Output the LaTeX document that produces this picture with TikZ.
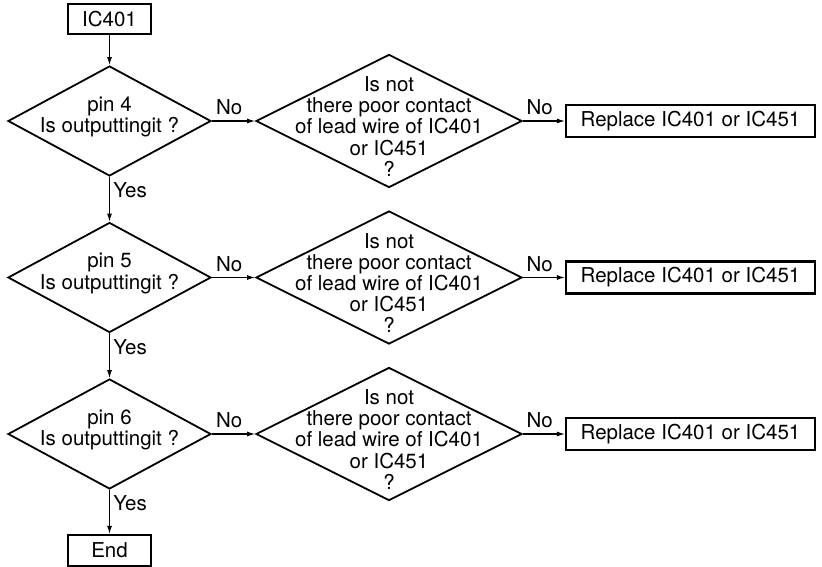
\documentclass[tikz,border=0pt]{standalone}
\usepackage{fontspec}
\setmainfont{TeX Gyre Heros}
\usetikzlibrary{shapes.geometric, arrows.meta, positioning}
\tikzstyle{terminal} = [rectangle, draw=black, line width=2.2pt,
minimum width=83pt, minimum height=30pt, inner sep=0pt]
\tikzstyle{decision} = [diamond, draw=black, line width=1.8pt,
minimum width=203pt, minimum height=110pt, inner sep=0pt]
\tikzstyle{check} = [decision, minimum width=266pt, minimum height=133pt]
\tikzstyle{replace} = [terminal, minimum width=249pt, minimum height=32pt]
\tikzstyle{question} = [align=center, inner sep=0pt]
\tikzstyle{arrow} = [line width=1.1pt,->,>={Latex[length=8pt,width=5pt]}]

\begin{document}
\begin{tikzpicture}[x=1pt, y=1pt, font=\fontsize{20.5}{21.2}\selectfont]
\useasboundingbox (0,0) rectangle (822,-567);

% Nodes
\node[terminal] (ic401) at (109.5,-19) {IC401};

\node[decision, below of=ic401, node distance=102pt] (pin4) {};
\node[question] (pin4text) at ([yshift=4pt]pin4) {pin 4\\Is outputtingit ?};
\node[check, right of=pin4, node distance=279.5pt] (contact4) {};
\node[question] (contact4text) at ([yshift=-5.5pt]contact4) {Is not\\there poor contact\\of lead wire of IC401\\or IC451\\?};
\node[replace, right of=contact4, node distance=301.5pt] (replace4) {Replace IC401 or IC451};

\node[decision, below of=pin4, node distance=156.5pt] (pin5) {};
\node[question] (pin5text) at ([yshift=4pt]pin5) {pin 5\\Is outputtingit ?};
\node[check, right of=pin5, node distance=279.5pt] (contact5) {};
\node[question] (contact5text) at ([yshift=-5.5pt]contact5) {Is not\\there poor contact\\of lead wire of IC401\\or IC451\\?};
\node[replace, right of=contact5, node distance=301.5pt] (replace5) {Replace IC401 or IC451};

\node[decision, below of=pin5, node distance=156.5pt] (pin6) {};
\node[question] (pin6text) at ([yshift=4pt]pin6) {pin 6\\Is outputtingit ?};
\node[check, right of=pin6, node distance=279.5pt] (contact6) {};
\node[question] (contact6text) at ([yshift=-5.5pt]contact6) {Is not\\there poor contact\\of lead wire of IC401\\or IC451\\?};
\node[replace, right of=contact6, node distance=301.5pt] (replace6) {Replace IC401 or IC451};

\node[terminal, below of=pin6, node distance=116.5pt, minimum height=31pt] (end) {End};

% Arrows
\draw[arrow] (ic401) -- (pin4);
\draw[arrow] (pin4) -- node[above, pos=0.4, yshift=2pt] (no4a) {No} (contact4);
\draw[arrow] (contact4) -- node[above, pos=0.4, yshift=2pt] (no4b) {No} (replace4);
\draw[arrow] (pin4) -- node[right, pos=0.3] (yes4) {Yes} (pin5);

\draw[arrow] (pin5) -- node[above, pos=0.4, yshift=2pt] (no5a) {No} (contact5);
\draw[arrow] (contact5) -- node[above, pos=0.4, yshift=2pt] (no5b) {No} (replace5);
\draw[arrow] (pin5) -- node[right, pos=0.3] (yes5) {Yes} (pin6);

\draw[arrow] (pin6) -- node[above, pos=0.4, yshift=2pt] (no6a) {No} (contact6);
\draw[arrow] (contact6) -- node[above, pos=0.4, yshift=2pt] (no6b) {No} (replace6);
\draw[arrow] (pin6) -- node[right, pos=0.3] (yes6) {Yes} (end);

\end{tikzpicture}
\end{document}
